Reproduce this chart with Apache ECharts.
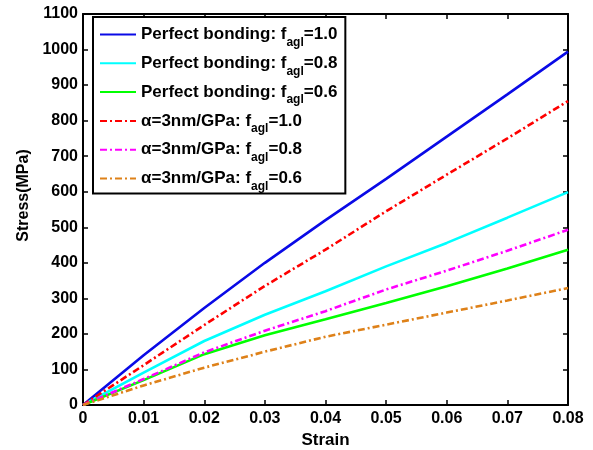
<!DOCTYPE html>
<html><head><meta charset="utf-8">
<script src="https://cdn.jsdelivr.net/npm/echarts@6/dist/echarts.min.js"></script>
<style>html,body{margin:0;padding:0;background:#fff}#c{width:593px;height:450px}</style>
</head><body><div id="c"></div>
<script>
var strain = [0, 0.01, 0.02, 0.03, 0.04, 0.05, 0.06, 0.07, 0.08];
var perfect10 = [0, 140, 273, 400, 520, 636, 755, 874, 994];
var perfect08 = [0, 91, 180, 254, 320, 390, 456, 527, 599];
var perfect06 = [0, 70, 143, 196, 241, 287, 334, 384, 437];
var alpha10 = [0, 112, 225, 335, 437, 545, 648, 750, 855];
var alpha08 = [0, 73, 148, 209, 264, 325, 378, 434, 493];
var alpha06 = [0, 55, 105, 150, 192, 226, 260, 294, 329];
var names = ['Perfect bonding: f{s|agl}=1.0','Perfect bonding: f{s|agl}=0.8','Perfect bonding: f{s|agl}=0.6',
             'α=3nm/GPa: f{s|agl}=1.0','α=3nm/GPa: f{s|agl}=0.8','α=3nm/GPa: f{s|agl}=0.6'];
var values = [perfect10, perfect08, perfect06, alpha10, alpha08, alpha06];
var colors = ['#0a0ae6','#00ffff','#00ff00','#ff0000','#ff00ff','#de8119'];
var dashed = [false,false,false,true,true,true];
var xTicks = ['0','0.01','0.02','0.03','0.04','0.05','0.06','0.07','0.08'];

var chart = echarts.init(document.getElementById('c'));
var font = 'Arial, "Liberation Sans", sans-serif';
function pairs(v){ return strain.map(function(x,i){return [x, v[i]];}); }
var series = values.map(function(v,i){
  return {name: names[i], type:'line', data: pairs(v), showSymbol:false, symbol:'none',
    lineStyle:{color:colors[i], width:2.6, type: dashed[i] ? [7,3,2,3] : 'solid'},
    itemStyle:{color:colors[i]}, xAxisIndex:0, yAxisIndex:0, z:3};
});
var axisCommon = {
  axisLine:{show:true, onZero:false, lineStyle:{color:'#000', width:2}},
  axisTick:{show:true, inside:true, length:5, lineStyle:{color:'#000', width:1.5}},
  splitLine:{show:false}
};
chart.setOption({
  animation:false,
  backgroundColor:'#fff',
  grid:{left:83, right:25, top:14, bottom:45, containLabel:false, outerBoundsMode:'none'},
  legend:{
    orient:'vertical', left:93, top:17, data:names,
    backgroundColor:'#fff', borderColor:'#000', borderWidth:2, borderRadius:0,
    padding:[9,8,1,6], itemWidth:36, itemHeight:14, itemGap:6.3,
    itemStyle:{opacity:0},
    textStyle:{fontFamily:font, fontWeight:'bold', fontSize:17, color:'#000',
      rich:{s:{fontFamily:font, fontWeight:'bold', fontSize:12, color:'#000', padding:[16,0,0,0]}}}
  },
  xAxis:[
    Object.assign({type:'value', min:0, max:0.08, interval:0.01, position:'bottom',
      name:'Strain', nameLocation:'middle', nameGap:26,
      nameTextStyle:{fontFamily:font, fontWeight:'bold', fontSize:17, color:'#000'},
      axisLabel:{fontFamily:font, fontWeight:'bold', fontSize:16, color:'#000', margin:6,
        formatter:function(v){ return xTicks[Math.round(v*100)]; }}}, axisCommon),
    Object.assign({type:'value', min:0, max:0.08, interval:0.01, position:'top',
      axisLabel:{show:false}}, axisCommon)
  ],
  yAxis:[
    Object.assign({type:'value', min:0, max:1100, interval:100, position:'left',
      name:'Stress(MPa)', nameLocation:'middle', nameGap:43,
      nameTextStyle:{fontFamily:font, fontWeight:'bold', fontSize:16, color:'#000', padding:[0,0,0,28]},
      axisLabel:{fontFamily:font, fontWeight:'bold', fontSize:16, color:'#000', margin:5,
        formatter:function(v){ return String(v); }}}, axisCommon),
    Object.assign({type:'value', min:0, max:1100, interval:100, position:'right',
      axisLabel:{show:false}}, axisCommon)
  ],
  series: series
});
</script></body></html>
